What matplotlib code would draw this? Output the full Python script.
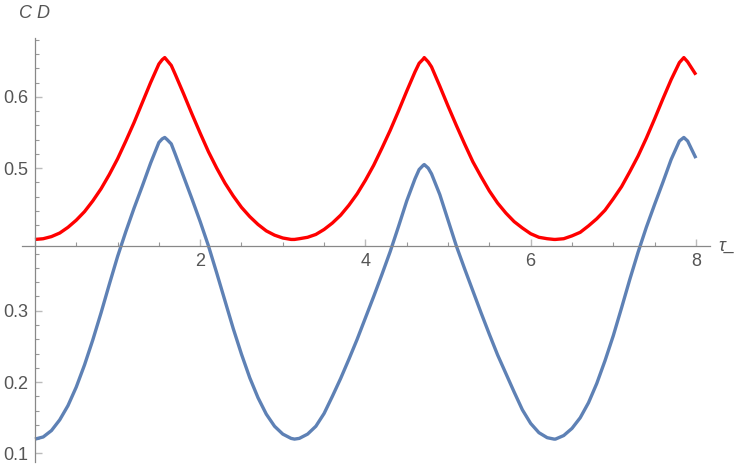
import matplotlib
matplotlib.use("Agg")
import matplotlib.pyplot as plt
from matplotlib.ticker import FixedLocator, MultipleLocator

plt.rcParams["font.family"] = ["Liberation Sans", "DejaVu Sans"]

# tau_ sample points
tau = [0.0, 0.1, 0.2, 0.3, 0.4, 0.5, 0.6, 0.7, 0.8, 0.9, 1.0, 1.1, 1.2, 1.3, 1.4, 1.5,
       1.54, 1.571, 1.6, 1.65, 1.7, 1.8, 1.9, 2.0, 2.1, 2.2, 2.3, 2.4, 2.5, 2.6, 2.7,
       2.8, 2.9, 3.0, 3.1, 3.1416, 3.2, 3.3, 3.4, 3.5, 3.6, 3.7, 3.8, 3.9, 4.0, 4.1,
       4.2, 4.3, 4.4, 4.5, 4.6, 4.65, 4.7, 4.712, 4.76, 4.8, 4.9, 5.0, 5.1, 5.2, 5.3,
       5.4, 5.5, 5.6, 5.7, 5.8, 5.9, 6.0, 6.1, 6.2, 6.2832, 6.3, 6.4, 6.5, 6.6, 6.7,
       6.8, 6.9, 7.0, 7.1, 7.2, 7.3, 7.4, 7.5, 7.6, 7.7, 7.8, 7.854, 7.9, 8.0]

red_vals = [0.400, 0.401, 0.404, 0.409, 0.417, 0.427, 0.439, 0.454, 0.471, 0.491, 0.513,
            0.538, 0.564, 0.592, 0.620, 0.646,
            0.652, 0.655, 0.651, 0.644, 0.631, 0.604, 0.576, 0.549, 0.523, 0.500, 0.479,
            0.461, 0.445, 0.432, 0.421,
            0.412, 0.406, 0.402, 0.400, 0.400, 0.401, 0.403, 0.407, 0.414, 0.423, 0.434,
            0.448, 0.464, 0.483, 0.504,
            0.528, 0.553, 0.580, 0.608, 0.635, 0.647, 0.653, 0.655, 0.649, 0.642, 0.615,
            0.587, 0.560, 0.534, 0.509,
            0.488, 0.468, 0.451, 0.437, 0.425, 0.416, 0.408, 0.403, 0.401, 0.400, 0.400,
            0.401, 0.405, 0.410, 0.419,
            0.429, 0.441, 0.457, 0.474, 0.495, 0.517, 0.542, 0.569, 0.597, 0.624, 0.648,
            0.655, 0.649, 0.631]

blue_vals = [0.120, 0.123, 0.132, 0.147, 0.167, 0.193, 0.224, 0.259, 0.297, 0.337, 0.376,
             0.411, 0.444, 0.475, 0.507, 0.536,
             0.541, 0.543, 0.540, 0.534, 0.519, 0.488, 0.457, 0.425, 0.391, 0.353, 0.314,
             0.275, 0.239, 0.206, 0.178,
             0.155, 0.138, 0.127, 0.121, 0.120, 0.121, 0.127, 0.138, 0.156, 0.180, 0.205,
             0.232, 0.260, 0.290, 0.320,
             0.351, 0.383, 0.418, 0.454, 0.485, 0.498, 0.504, 0.505, 0.500, 0.492, 0.463,
             0.427, 0.391, 0.359, 0.328,
             0.297, 0.267, 0.238, 0.212, 0.186, 0.161, 0.142, 0.129, 0.122, 0.120, 0.120,
             0.125, 0.135, 0.150, 0.171,
             0.198, 0.230, 0.265, 0.304, 0.344, 0.382, 0.417, 0.449, 0.480, 0.512, 0.538,
             0.543, 0.538, 0.514]

x_major = [2, 4, 6, 8]
y_major = [0.1, 0.2, 0.3, 0.4, 0.5, 0.6]
y_labels = ["0.1", "0.2", "0.3", "", "0.5", "0.6"]

GRAY = "#888888"
LABEL = "#555555"

fig = plt.figure(figsize=(7.5, 4.68), dpi=100)
ax = fig.add_axes([0.0293, 0.013, 0.9173, 0.9066])

line_kw = dict(lw=2.4, solid_capstyle="butt", solid_joinstyle="round")
ax.plot(tau, blue_vals, color="#5E81B5", **line_kw)
ax.plot(tau, red_vals, color="#FF0000", **line_kw)

ax.set_xlim(-0.157, 8.17)
ax.set_ylim(0.088, 0.683)

for side in ("top", "right"):
    ax.spines[side].set_visible(False)
ax.spines["left"].set_position(("data", 0))
ax.spines["bottom"].set_position(("data", 0.3906))
for side in ("left", "bottom"):
    ax.spines[side].set_color(GRAY)
    ax.spines[side].set_linewidth(0.9)

ax.xaxis.set_major_locator(FixedLocator(x_major))
ax.xaxis.set_minor_locator(MultipleLocator(0.5))
ax.yaxis.set_major_locator(FixedLocator(y_major))
ax.set_yticklabels(y_labels)
ax.yaxis.set_minor_locator(MultipleLocator(0.02))

ax.tick_params(which="major", direction="in", length=5, width=1.0, color="#bbbbbb",
               labelsize=13, labelcolor=LABEL, pad=5)
ax.tick_params(which="minor", direction="in", length=3, width=0.8, color="#999999")

fig.text(718 / 750, 1 - 246 / 468, "τ_", fontsize=13, color=LABEL, style="italic",
         ha="left", va="center")
fig.text(19 / 750, 1 - 13 / 468, "C D", fontsize=13, color=LABEL, style="italic",
         ha="left", va="center")

fig.savefig("out.png", dpi=100)
